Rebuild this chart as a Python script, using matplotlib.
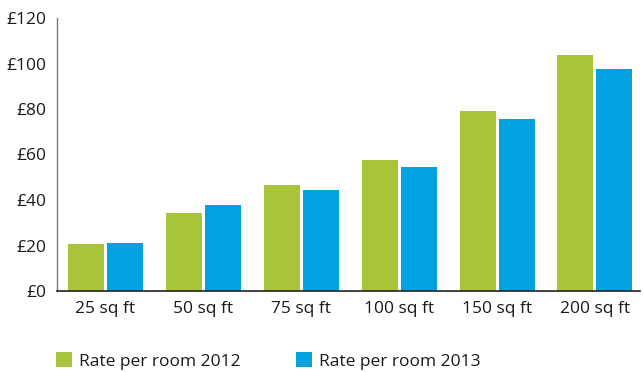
import matplotlib
matplotlib.use("Agg")
import matplotlib.pyplot as plt
from matplotlib.patches import Patch
import numpy as np

categories = ["25 sq ft", "50 sq ft", "75 sq ft", "100 sq ft", "150 sq ft", "200 sq ft"]
rate_2012 = [20.7, 34.5, 46.8, 57.8, 79.0, 103.7]
rate_2013 = [21.2, 37.9, 44.6, 54.7, 75.4, 97.5]
series_names = ["Rate per room 2012", "Rate per room 2013"]
y_ticks = [0, 20, 40, 60, 80, 100, 120]

green = "#A7C43B"
blue = "#00A3DF"

plt.rcParams["font.family"] = ["Open Sans", "DejaVu Sans"]

fig = plt.figure(figsize=(6.43, 3.72), dpi=100)
ax = fig.add_axes([57 / 643, 1 - 291 / 372, (640 - 57) / 643, (291 - 18) / 372])

x = np.arange(len(categories))
w = 0.368
off = 0.199
ax.bar(x - off, rate_2012, width=w, color=green, linewidth=0)
ax.bar(x + off, rate_2013, width=w, color=blue, linewidth=0)

ax.set_xlim(-0.495, len(categories) - 1 + 0.46)
ax.set_ylim(0, 120)
ax.set_yticks(y_ticks)
ax.set_yticklabels([f"£{v}" for v in y_ticks])
ax.set_xticks(x)
ax.set_xticklabels(categories)
ax.tick_params(axis="both", length=0, labelsize=12.5, colors="#1a1a1a")
ax.tick_params(axis="y", pad=8)
ax.tick_params(axis="x", pad=7)

for s in ("top", "right"):
    ax.spines[s].set_visible(False)
ax.spines["left"].set_color("#777777")
ax.spines["left"].set_linewidth(1.0)
ax.spines["bottom"].set_color("#222222")
ax.spines["bottom"].set_linewidth(1.2)

handles = [Patch(facecolor=green, edgecolor="none"), Patch(facecolor=blue, edgecolor="none")]
fig.legend(handles, series_names, loc="center left", bbox_to_anchor=(56 / 643, 1 - 361 / 372),
           ncol=2, frameon=False, fontsize=12.5, handlelength=0.92, handleheight=0.88,
           handletextpad=0.4, columnspacing=3.2, labelcolor="#1a1a1a",
           borderpad=0, borderaxespad=0)

fig.savefig("out.png", dpi=100)
